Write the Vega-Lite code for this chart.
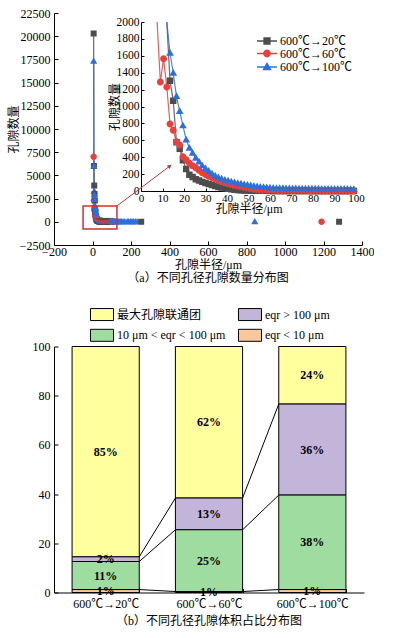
{
  "$schema": "https://vega.github.io/schema/vega-lite/v6.json",
  "padding": {"left": 7, "top": 7, "right": 0, "bottom": 0},
  "autosize": {"type": "pad"},
  "spacing": 23.5,
  "resolve": {"scale": {"color": "independent", "shape": "independent"}, "legend": {"color": "independent", "shape": "independent"}},
  "config": {
    "view": {"stroke": null},
    "font": "Liberation Serif, Noto Sans CJK SC",
    "axis": {"labelFont": "Liberation Serif, Noto Sans CJK SC", "titleFont": "Liberation Serif, Noto Sans CJK SC", "labelColor": "black", "titleColor": "black", "domainColor": "black", "tickColor": "black", "grid": false, "titleFontWeight": "normal", "labelFontSize": 12, "titleFontSize": 12, "labelFlush": false, "labelOverlap": false},
    "legend": {"labelFont": "Liberation Serif, Noto Sans CJK SC", "labelColor": "black"}
  },
  "datasets": {
    "pores": [
      {"x": 6, "a": 20300, "b": 7000, "c": 17300},
      {"x": 7.5, "a": 6000, "b": 2300, "c": 6000},
      {"x": 9, "a": 3900, "b": 1290, "c": 3300},
      {"x": 10.5, "a": 3000, "b": 1566, "c": 2900},
      {"x": 12, "a": 2300, "b": 1231, "c": 2400},
      {"x": 13.5, "a": 1305, "b": 793, "c": 1633},
      {"x": 15, "a": 1069, "b": 718, "c": 1396},
      {"x": 16.5, "a": 576, "b": 583, "c": 1120},
      {"x": 18, "a": 501, "b": 544, "c": 943},
      {"x": 19.5, "a": 363, "b": 406, "c": 773},
      {"x": 21, "a": 260, "b": 370, "c": 607},
      {"x": 22.5, "a": 193, "b": 330, "c": 509},
      {"x": 24, "a": 165, "b": 300, "c": 450},
      {"x": 25.5, "a": 140, "b": 275, "c": 390},
      {"x": 27, "a": 125, "b": 245, "c": 345},
      {"x": 28.5, "a": 108, "b": 215, "c": 300},
      {"x": 30, "a": 95, "b": 195, "c": 265},
      {"x": 31.5, "a": 82, "b": 175, "c": 235},
      {"x": 33, "a": 70, "b": 160, "c": 205},
      {"x": 34.5, "a": 58, "b": 140, "c": 180},
      {"x": 36, "a": 48, "b": 125, "c": 160},
      {"x": 37.5, "a": 40, "b": 110, "c": 145},
      {"x": 39, "a": 32, "b": 98, "c": 130},
      {"x": 40.5, "a": 25, "b": 85, "c": 120},
      {"x": 42, "a": 19, "b": 75, "c": 110},
      {"x": 43.5, "a": 14, "b": 66, "c": 100},
      {"x": 45, "a": 10, "b": 58, "c": 92},
      {"x": 46.5, "a": 8, "b": 50, "c": 85},
      {"x": 48, "a": 6, "b": 42, "c": 78},
      {"x": 49.5, "a": 5, "b": 35, "c": 72},
      {"x": 51, "a": 4, "b": 28, "c": 65},
      {"x": 52.5, "a": 3, "b": 22, "c": 58},
      {"x": 54, "a": 3, "b": 17, "c": 52},
      {"x": 55.5, "a": 2, "b": 13, "c": 48},
      {"x": 57, "a": 2, "b": 10, "c": 44},
      {"x": 58.5, "a": 2, "b": 8, "c": 40},
      {"x": 60, "a": 1, "b": 6, "c": 37},
      {"x": 61.5, "a": 1, "b": 5, "c": 35},
      {"x": 63, "a": 1, "b": 4, "c": 33},
      {"x": 64.5, "a": 1, "b": 4, "c": 32},
      {"x": 66, "a": 1, "b": 3, "c": 31},
      {"x": 67.5, "a": 1, "b": 3, "c": 30},
      {"x": 69, "a": 1, "b": 3, "c": 29},
      {"x": 70.5, "a": 1, "b": 2, "c": 28},
      {"x": 72, "a": 0, "b": 2, "c": 28},
      {"x": 73.5, "a": 0, "b": 2, "c": 27},
      {"x": 75, "a": 0, "b": 2, "c": 27},
      {"x": 76.5, "a": 0, "b": 2, "c": 26},
      {"x": 78, "a": 0, "b": 2, "c": 26},
      {"x": 79.5, "a": 0, "b": 1, "c": 25},
      {"x": 81, "a": 0, "b": 1, "c": 25},
      {"x": 82.5, "a": 0, "b": 1, "c": 25},
      {"x": 84, "a": 0, "b": 1, "c": 24},
      {"x": 85.5, "a": 0, "b": 1, "c": 24},
      {"x": 87, "a": 0, "b": 1, "c": 24},
      {"x": 88.5, "a": 0, "b": 1, "c": 23},
      {"x": 90, "a": 0, "b": 1, "c": 23},
      {"x": 91.5, "a": 0, "b": 1, "c": 23},
      {"x": 93, "a": 0, "b": 1, "c": 22},
      {"x": 94.5, "a": 0, "b": 1, "c": 22},
      {"x": 96, "a": 0, "b": 1, "c": 22},
      {"x": 97.5, "a": 0, "b": 1, "c": 21},
      {"x": 99, "a": 0, "b": 1, "c": 21},
      {"x": 101, "c": 20},
      {"x": 103, "c": 20},
      {"x": 105, "c": 19},
      {"x": 107, "c": 19},
      {"x": 110, "c": 19},
      {"x": 113, "c": 18},
      {"x": 116, "c": 18},
      {"x": 120, "c": 17},
      {"x": 124, "c": 17},
      {"x": 128, "c": 16},
      {"x": 133, "c": 16},
      {"x": 138, "c": 15},
      {"x": 144, "c": 15},
      {"x": 150, "c": 14},
      {"x": 159, "c": 13},
      {"x": 168, "c": 13},
      {"x": 180, "c": 12},
      {"x": 188, "c": 12},
      {"x": 197, "c": 11},
      {"x": 205, "c": 11},
      {"x": 213, "c": 10},
      {"x": 222, "c": 10},
      {"x": 232, "c": 10}
    ],
    "iso": [
      {"x": 253, "s": "a", "n": 0},
      {"x": 843, "s": "c", "n": 0},
      {"x": 1190, "s": "b", "n": 0},
      {"x": 1281, "s": "a", "n": 0}
    ],
    "bars": [
      {"c": "600℃→20℃", "t": "最大孔隙联通团", "v": 85.5, "k": 4, "lab": "85%"},
      {"c": "600℃→20℃", "t": "eqr > 100 μm", "v": 1.9, "k": 3, "lab": "2%"},
      {"c": "600℃→20℃", "t": "10 μm < eqr < 100 μm", "v": 11.4, "k": 2, "lab": "11%"},
      {"c": "600℃→20℃", "t": "eqr < 10 μm", "v": 1.2, "k": 1, "lab": "1%"},
      {"c": "600℃→60℃", "t": "最大孔隙联通团", "v": 61.6, "k": 4, "lab": "62%"},
      {"c": "600℃→60℃", "t": "eqr > 100 μm", "v": 12.9, "k": 3, "lab": "13%"},
      {"c": "600℃→60℃", "t": "10 μm < eqr < 100 μm", "v": 25.1, "k": 2, "lab": "25%"},
      {"c": "600℃→60℃", "t": "eqr < 10 μm", "v": 0.4, "k": 1, "lab": "1%"},
      {"c": "600℃→100℃", "t": "最大孔隙联通团", "v": 23.4, "k": 4, "lab": "24%"},
      {"c": "600℃→100℃", "t": "eqr > 100 μm", "v": 37, "k": 3, "lab": "36%"},
      {"c": "600℃→100℃", "t": "10 μm < eqr < 100 μm", "v": 38.4, "k": 2, "lab": "38%"},
      {"c": "600℃→100℃", "t": "eqr < 10 μm", "v": 1.2, "k": 1, "lab": "1%"}
    ],
    "links": [
      {"from": "600℃→20℃", "to": "600℃→60℃", "y1": 1.2, "y2": 0.4},
      {"from": "600℃→20℃", "to": "600℃→60℃", "y1": 12.6, "y2": 25.5},
      {"from": "600℃→20℃", "to": "600℃→60℃", "y1": 14.5, "y2": 38.4},
      {"from": "600℃→60℃", "to": "600℃→100℃", "y1": 0.4, "y2": 1.2},
      {"from": "600℃→60℃", "to": "600℃→100℃", "y1": 25.5, "y2": 39.6},
      {"from": "600℃→60℃", "to": "600℃→100℃", "y1": 38.4, "y2": 76.6}
    ]
  },
  "vconcat": [
    {
      "width": 308,
      "height": 232,
      "title": {"text": "（a）不同孔径孔隙数量分布图", "orient": "bottom", "anchor": "middle", "offset": 3, "fontSize": 12, "font": "Liberation Serif, Noto Sans CJK SC", "fontWeight": "normal", "color": "black"},
      "resolve": {"scale": {"x": "independent", "y": "independent"}, "axis": {"x": "independent", "y": "independent"}},
      "layer": [
        {
          "layer": [
            {
              "data": {"name": "pores"},
              "transform": [{"fold": ["a", "b", "c"], "as": ["s", "n"]}, {"filter": "isValid(datum.n)"}],
              "mark": {"type": "line", "strokeWidth": 1.2, "opacity": 0.85},
              "encoding": {
                "x": {"field": "x", "type": "quantitative", "scale": {"domain": [-200, 1400], "nice": false, "zero": false},
                  "axis": {"orient": "bottom", "values": [-200, 0, 200, 400, 600, 800, 1000, 1200, 1400], "tickCount": 30, "format": "d", "tickSize": -4, "labelPadding": 5, "labelBound": false, "title": "孔隙半径/μm", "titlePadding": 2}},
                "y": {"field": "n", "type": "quantitative", "scale": {"domain": [-2500, 22500], "nice": false, "zero": false},
                  "axis": {"orient": "left", "values": [-2500, 0, 2500, 5000, 7500, 10000, 12500, 15000, 17500, 20000, 22500], "tickCount": 30, "format": "d", "tickSize": -4, "labelPadding": 8, "labelBound": false, "title": "孔隙数量", "titlePadding": -1}},
                "color": {"field": "s", "type": "nominal", "scale": {"domain": ["a", "b", "c"], "range": ["#4d4d4d", "#e8403f", "#2e6fdc"]},
                  "legend": {"orient": "none", "legendX": 207, "legendY": 22, "title": null, "padding": 0, "symbolSize": 100, "symbolStrokeWidth": 1.3, "symbolOpacity": 1, "labelFontSize": 12, "labelOffset": 7, "rowPadding": 0.5,
                    "labelExpr": "datum.value === 'a' ? '600℃→20℃' : datum.value === 'b' ? '600℃→60℃' : '600℃→100℃'"}}
              }
            },
            {
              "data": {"name": "pores"},
              "transform": [{"fold": ["a", "b", "c"], "as": ["s", "n"]}, {"filter": "isValid(datum.n)"}],
              "mark": {"type": "point", "filled": true, "opacity": 1, "size": 100},
              "encoding": {
                "x": {"field": "x", "type": "quantitative"},
                "y": {"field": "n", "type": "quantitative"},
                "color": {"field": "s", "type": "nominal"},
                "shape": {"field": "s", "type": "nominal", "scale": {"domain": ["a", "b", "c"], "range": ["M-2,0H2M-0.6,-0.6H0.6V0.6H-0.6Z", "M-2,0H2M0.65,0A0.65,0.65,0,1,1,-0.65,0A0.65,0.65,0,1,1,0.65,0Z", "M-2,0H2M0,-0.75L0.72,0.5H-0.72Z"]}}
              }
            },
            {
              "data": {"name": "iso"},
              "mark": {"type": "point", "filled": true, "opacity": 1, "size": 100},
              "encoding": {
                "x": {"field": "x", "type": "quantitative"},
                "y": {"field": "n", "type": "quantitative"},
                "color": {"field": "s", "type": "nominal"},
                "shape": {"field": "s", "type": "nominal"}
              }
            },
            {
              "data": {"values": [{}]},
              "mark": {"type": "rect", "fill": "transparent", "stroke": "#d32f2f", "strokeWidth": 1.5},
              "encoding": {
                "x": {"datum": -49, "type": "quantitative"},
                "x2": {"datum": 127},
                "y": {"datum": -776, "type": "quantitative"},
                "y2": {"datum": 1703}
              }
            },
            {
              "data": {"values": [{}]},
              "mark": {"type": "rule", "color": "#b23a3a", "strokeWidth": 1},
              "encoding": {
                "x": {"datum": 127, "type": "quantitative"},
                "x2": {"datum": 398},
                "y": {"datum": 1703, "type": "quantitative"},
                "y2": {"datum": 5950}
              }
            },
            {
              "data": {"values": [{}]},
              "mark": {"type": "point", "shape": "triangle-up", "filled": true, "size": 22, "angle": 53, "color": "#b23a3a", "opacity": 1},
              "encoding": {
                "x": {"datum": 402, "type": "quantitative"},
                "y": {"datum": 6010, "type": "quantitative"}
              }
            }
          ]
        },
        {
          "layer": [
            {
              "data": {"name": "pores"},
              "transform": [{"fold": ["a", "b", "c"], "as": ["s", "n"]}, {"filter": "isValid(datum.n) && datum.x <= 100 && (datum.s === 'b' ? datum.x >= 7.5 : datum.x >= 12)"}],
              "mark": {"type": "line", "strokeWidth": 1.2, "opacity": 0.85},
              "encoding": {
                "x": {"field": "x", "type": "quantitative", "scale": {"domain": [0, 100], "range": [87, 302], "nice": false, "zero": false},
                  "axis": {"orient": "bottom", "offset": -54, "values": [0, 10, 20, 30, 40, 50, 60, 70, 80, 90, 100], "tickCount": 30, "format": "d", "tickSize": -3, "labelPadding": 4, "labelFontSize": 11, "labelBound": false, "title": "孔隙半径/μm", "titlePadding": 0}},
                "y": {"field": "n", "type": "quantitative", "scale": {"domain": [0, 2000], "range": [178, 9], "nice": false, "zero": false, "clamp": true},
                  "axis": {"orient": "left", "offset": -87, "values": [0, 200, 400, 600, 800, 1000, 1200, 1400, 1600, 1800, 2000], "tickCount": 30, "format": "d", "tickSize": -3, "labelPadding": 5, "labelFontSize": 11.5, "labelBound": false, "title": "孔隙数量", "titlePadding": -5}},
                "color": {"field": "s", "type": "nominal"}
              }
            },
            {
              "data": {"name": "pores"},
              "transform": [{"fold": ["a", "b", "c"], "as": ["s", "n"]}, {"filter": "isValid(datum.n) && datum.x <= 100 && datum.n <= 2000"}],
              "mark": {"type": "point", "filled": true, "opacity": 1, "size": 115},
              "encoding": {
                "x": {"field": "x", "type": "quantitative"},
                "y": {"field": "n", "type": "quantitative"},
                "color": {"field": "s", "type": "nominal"},
                "shape": {"field": "s", "type": "nominal"}
              }
            }
          ]
        }
      ]
    },
    {
      "width": 310,
      "height": 246,
      "title": {"text": "（b）不同孔径孔隙体积占比分布图", "orient": "bottom", "anchor": "middle", "offset": 6.5, "fontSize": 12, "font": "Liberation Serif, Noto Sans CJK SC", "fontWeight": "normal", "color": "black"},
      "layer": [
        {
          "data": {"name": "bars"},
          "mark": {"type": "bar", "stroke": "black", "strokeWidth": 1},
          "encoding": {
            "x": {"field": "c", "type": "nominal", "title": null, "scale": {"domain": ["600℃→20℃", "600℃→60℃", "600℃→100℃"], "paddingInner": 0.35, "paddingOuter": 0.175},
              "axis": {"labelAngle": 0, "tickBand": "extent", "tickSize": -4, "labelPadding": 10, "labelFontSize": 12, "title": null}},
            "y": {"field": "v", "type": "quantitative", "stack": "zero", "scale": {"domain": [0, 100], "nice": false},
              "axis": {"values": [0, 20, 40, 60, 80, 100], "tickCount": 30, "tickSize": -4, "labelPadding": 8, "title": "孔隙体积占比/%", "titlePadding": 4}},
            "color": {"field": "t", "type": "nominal",
              "scale": {"domain": ["最大孔隙联通团", "10 μm < eqr < 100 μm", "eqr > 100 μm", "eqr < 10 μm"], "range": ["#ffff9e", "#9fdc9f", "#c3b4d9", "#fbc79d"]},
              "legend": {"orient": "none", "legendX": 41.5, "legendY": -38.7, "columns": 2, "title": null, "padding": 0, "symbolType": "M-1.92,-1H1.92V1H-1.92Z", "symbolSize": 144, "symbolStrokeColor": "black", "symbolStrokeWidth": 1, "symbolOpacity": 1, "labelFontSize": 12, "labelOffset": 8.5, "rowPadding": 4, "columnPadding": 10}},
            "order": {"field": "k", "type": "quantitative"}
          }
        },
        {
          "data": {"name": "links"},
          "mark": {"type": "rule", "color": "black", "strokeWidth": 1},
          "encoding": {
            "x": {"field": "from", "type": "nominal", "bandPosition": 1, "title": null},
            "x2": {"field": "to", "bandPosition": 0},
            "y": {"field": "y1", "type": "quantitative", "title": null},
            "y2": {"field": "y2"}
          }
        },
        {
          "data": {"name": "bars"},
          "mark": {"type": "text", "font": "Liberation Serif", "fontSize": 12, "fontWeight": "bold", "color": "black"},
          "encoding": {
            "x": {"field": "c", "type": "nominal", "title": null},
            "y": {"field": "v", "type": "quantitative", "stack": "zero", "bandPosition": 0.5, "title": null},
            "detail": {"field": "t", "type": "nominal"},
            "order": {"field": "k", "type": "quantitative"},
            "text": {"field": "lab", "type": "nominal"}
          }
        }
      ]
    }
  ]
}
